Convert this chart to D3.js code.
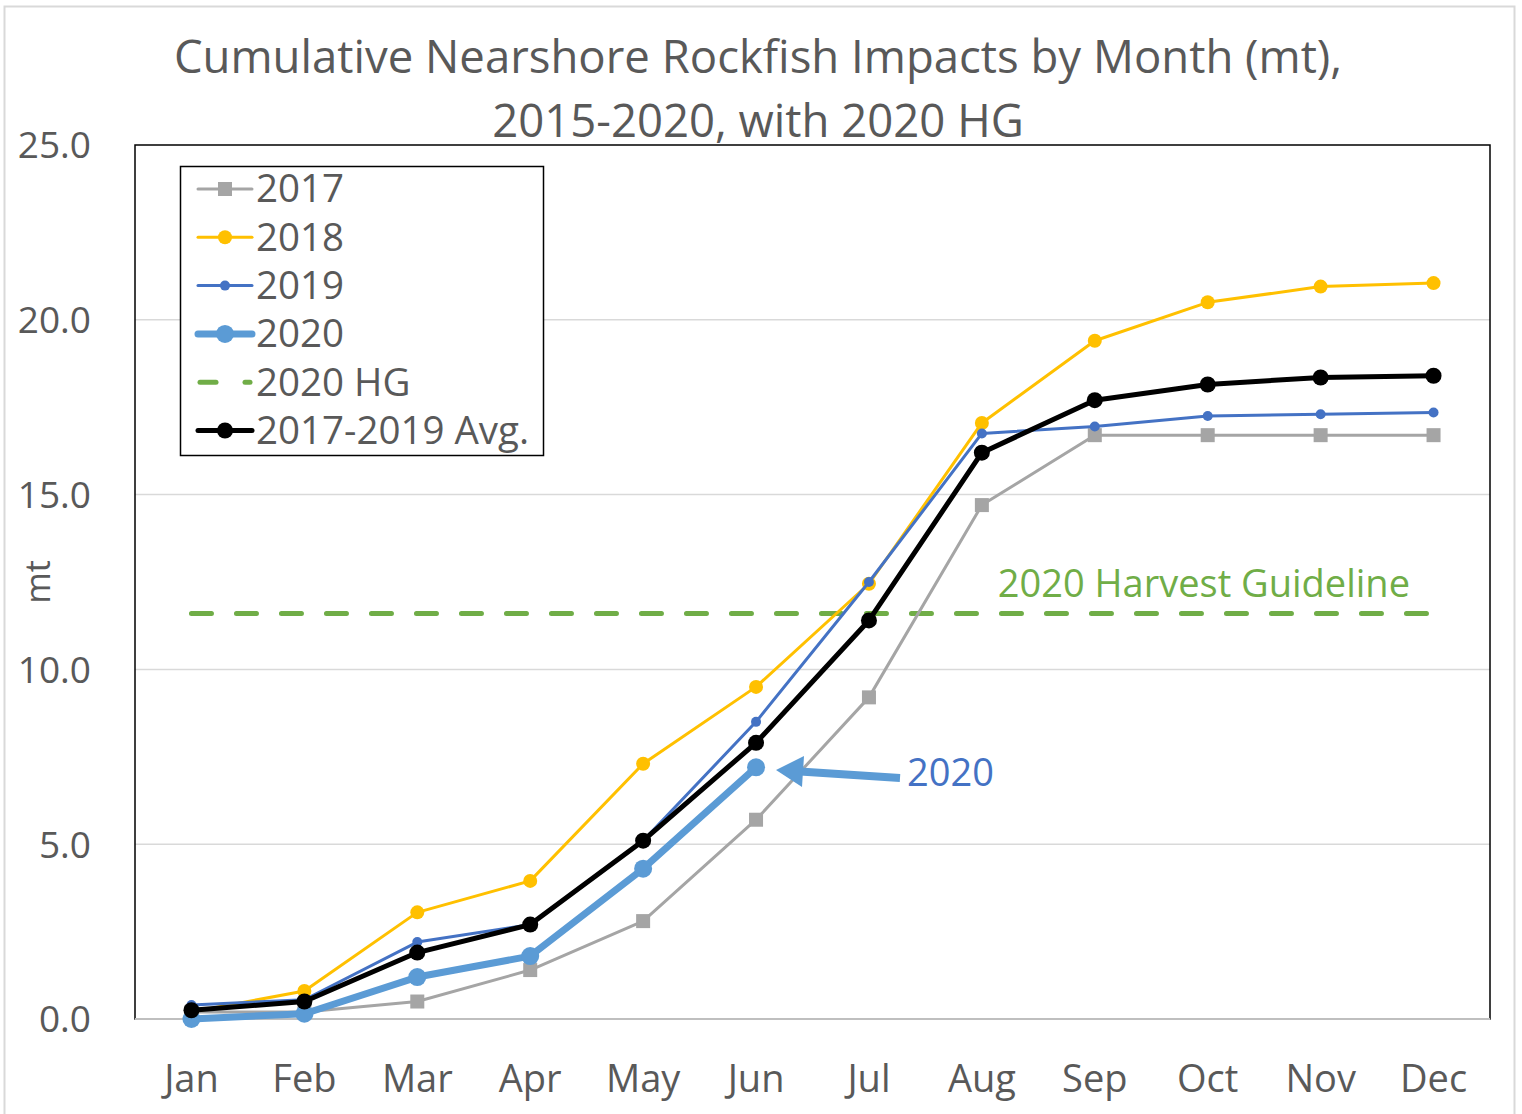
<!DOCTYPE html>
<html><head><meta charset="utf-8">
<script src="https://cdn.jsdelivr.net/npm/d3@7"></script>
<style>body{margin:0;background:#fff;} svg{display:block;font-family:"Open Sans","Noto Sans",sans-serif;}</style>
</head><body><svg id="c" width="1522" height="1114"></svg>
<script>
const months = ["Jan","Feb","Mar","Apr","May","Jun","Jul","Aug","Sep","Oct","Nov","Dec"];
const s2017 = [0.2,0.2,0.5,1.4,2.8,5.7,9.2,14.7,16.7,16.7,16.7,16.7];
const s2018 = [0.2,0.8,3.05,3.95,7.3,9.5,12.45,17.05,19.4,20.5,20.95,21.05];
const s2019 = [0.4,0.55,2.2,2.7,5.1,8.5,12.5,16.75,16.95,17.25,17.3,17.35];
const s2020 = [0.0,0.15,1.2,1.8,4.3,7.2];
const avg = [0.25,0.5,1.9,2.7,5.1,7.9,11.4,16.2,17.7,18.15,18.35,18.4];
const hg = 11.6;
const yTicks = [0,5,10,15,20,25];

const svg = d3.select("#c");
const L=135,R=1490,T=145,B=1019;
const x = d3.scaleBand().domain(months).range([L,R]);
const y = d3.scaleLinear().domain([0,25]).range([B,T]);
const cx = m => x(m)+x.bandwidth()/2;

// outer border
svg.append("rect").attr("x",4.5).attr("y",6.5).attr("width",1510).attr("height",1120)
  .attr("fill","#fff").attr("stroke","#d9d9d9").attr("stroke-width",2);

// title
svg.append("text").attr("x",758).attr("y",73).attr("text-anchor","middle").attr("font-size",45.5).attr("fill","#595959")
  .text("Cumulative Nearshore Rockfish Impacts by Month (mt),");
svg.append("text").attr("x",758).attr("y",137).attr("text-anchor","middle").attr("font-size",45.5).attr("fill","#595959")
  .text("2015-2020, with 2020 HG");

// gridlines
svg.append("g").selectAll("line").data(yTicks.filter(d=>d>0&&d<25)).join("line")
  .attr("x1",L).attr("x2",R).attr("y1",d=>y(d)).attr("y2",d=>y(d)).attr("stroke","#d9d9d9").attr("stroke-width",1.5);

// plot border
svg.append("rect").attr("x",L).attr("y",T).attr("width",R-L).attr("height",B-T).attr("fill","none").attr("stroke","#000").attr("stroke-width",1.5);
svg.append("line").attr("x1",L).attr("x2",R).attr("y1",B).attr("y2",B).attr("stroke","#bfbfbf").attr("stroke-width",2);

// y axis
const ya = svg.append("g").attr("transform",`translate(${L-41},0)`).call(d3.axisLeft(y).tickValues(yTicks).tickFormat(d3.format(".1f")).tickSize(0));
ya.select(".domain").remove();
ya.selectAll("text").attr("font-size",37).attr("fill","#595959").attr("font-family","Open Sans").attr("dy","0.35em");

// x axis
const xa = svg.append("g").attr("transform",`translate(0,${B})`).call(d3.axisBottom(x).tickSize(0));
xa.select(".domain").remove();
xa.selectAll("text").attr("font-size",38).attr("fill","#595959").attr("font-family","Open Sans").attr("dy","0").attr("y",73);

// y label
svg.append("text").attr("transform","translate(50,582) rotate(-90)").attr("text-anchor","middle").attr("font-size",34).attr("fill","#595959").text("mt");

// HG line
svg.append("line").attr("x1",cx("Jan")).attr("x2",cx("Dec")).attr("y1",y(hg)).attr("y2",y(hg))
  .attr("stroke","#70ad47").attr("stroke-width",5).attr("stroke-dasharray","20,25").attr("stroke-linecap","round");
svg.append("text").attr("x",1410).attr("y",597).attr("text-anchor","end").attr("font-size",38).attr("fill","#70ad47").text("2020 Harvest Guideline");

const line = d3.line().x((d,i)=>cx(months[i])).y(d=>y(d));
function series(data,color,w,marker,size){
  const g = svg.append("g");
  g.append("path").datum(data).attr("d",line).attr("fill","none").attr("stroke",color).attr("stroke-width",w).attr("stroke-linejoin","round");
  if(marker==="square"){
    g.selectAll("rect").data(data).join("rect").attr("x",(d,i)=>cx(months[i])-size/2).attr("y",d=>y(d)-size/2)
      .attr("width",size).attr("height",size).attr("fill",color);
  } else {
    g.selectAll("circle").data(data).join("circle").attr("cx",(d,i)=>cx(months[i])).attr("cy",d=>y(d)).attr("r",size).attr("fill",color);
  }
}
series(s2017,"#a5a5a5",3,"square",14);
series(s2018,"#ffc000",3,"circle",7);
series(s2019,"#4472c4",3,"circle",5);
series(s2020,"#5b9bd5",7,"circle",9);
series(avg,"#000000",5,"circle",8);

// 2020 annotation arrow
const ax0=900, ay0=778, ax1=776, ay1=770;
svg.append("line").attr("x1",ax0).attr("y1",ay0).attr("x2",ax1+24).attr("y2",ay1+1.5).attr("stroke","#5b9bd5").attr("stroke-width",8);
svg.append("path").attr("d",`M${ax1},${ay1} L${ax1+28},${ay1-14} L${ax1+26},${ay1+17} Z`).attr("fill","#5b9bd5");
svg.append("text").attr("x",907).attr("y",786).attr("font-size",38).attr("fill","#4472c4").text("2020");

// legend
const leg = svg.append("g");
leg.append("rect").attr("x",180.5).attr("y",166.5).attr("width",363).attr("height",289).attr("fill","#fff").attr("stroke","#000").attr("stroke-width",1.5);
const legItems = [
  {t:"2017",c:"#a5a5a5",w:3,m:"square",s:14},
  {t:"2018",c:"#ffc000",w:3,m:"circle",s:7},
  {t:"2019",c:"#4472c4",w:3,m:"circle",s:5},
  {t:"2020",c:"#5b9bd5",w:7,m:"circle",s:9},
  {t:"2020 HG",c:"#70ad47",w:5,m:"dash",s:0},
  {t:"2017-2019 Avg.",c:"#000",w:5,m:"circle",s:8}
];
legItems.forEach((d,i)=>{
  const yy = 189 + i*48.3;
  const g = leg.append("g");
  if(d.m==="dash"){
    g.append("line").attr("x1",200).attr("x2",216).attr("y1",yy).attr("y2",yy).attr("stroke",d.c).attr("stroke-width",d.w).attr("stroke-linecap","round");
    g.append("line").attr("x1",245).attr("x2",250).attr("y1",yy).attr("y2",yy).attr("stroke",d.c).attr("stroke-width",d.w).attr("stroke-linecap","round");
  } else {
    g.append("line").attr("x1",198).attr("x2",252).attr("y1",yy).attr("y2",yy).attr("stroke",d.c).attr("stroke-width",d.w).attr("stroke-linecap","round");
    if(d.m==="square") g.append("rect").attr("x",225-d.s/2).attr("y",yy-d.s/2).attr("width",d.s).attr("height",d.s).attr("fill",d.c);
    else g.append("circle").attr("cx",225).attr("cy",yy).attr("r",d.s).attr("fill",d.c);
  }
  g.append("text").attr("x",256).attr("y",yy).attr("dy","0.35em").attr("font-size",38.5).attr("fill","#595959").text(d.t);
});
</script></body></html>
